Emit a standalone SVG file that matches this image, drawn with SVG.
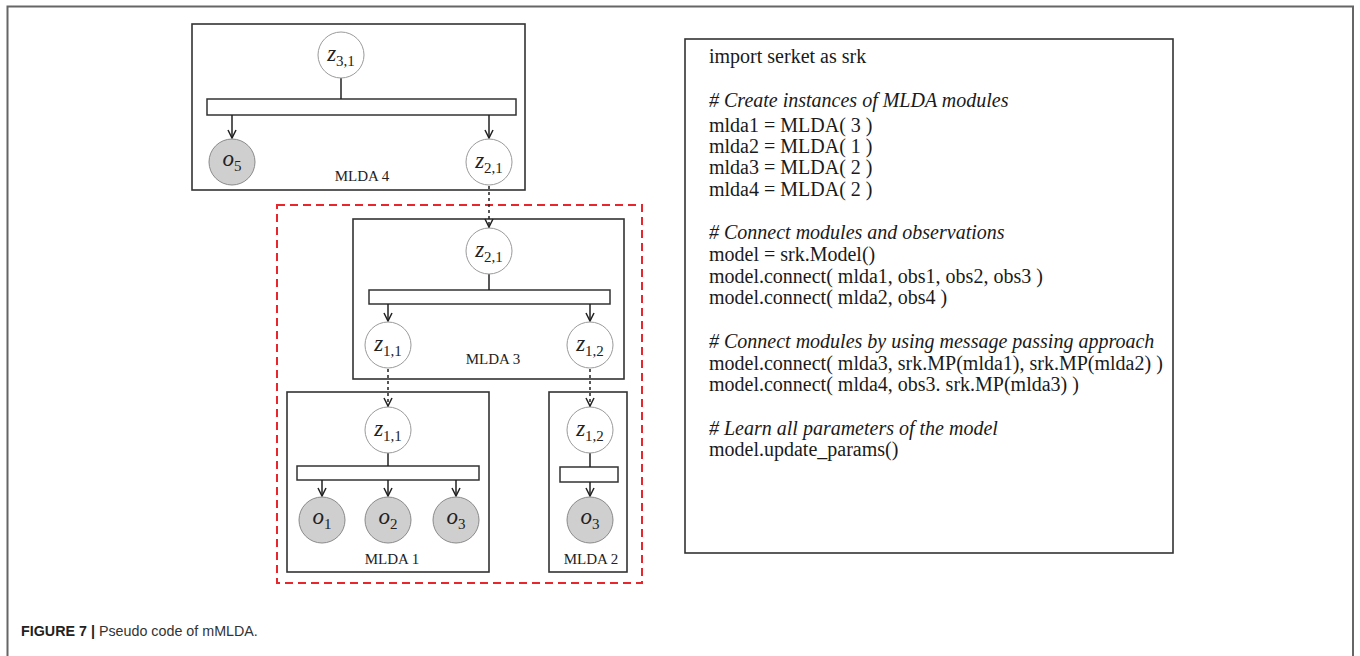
<svg xmlns="http://www.w3.org/2000/svg" width="1360" height="656" viewBox="0 0 1360 656">
  <style>
    .frame { fill: none; stroke: #666; stroke-width: 2; }
    .module { fill: #fff; stroke: #333; stroke-width: 1.6; }
    .bar { fill: #fff; stroke: #333; stroke-width: 1.5; }
    .latent { fill: #fff; stroke: #9a9a9a; stroke-width: 1; }
    .observed { fill: #cfcfcf; stroke: #8a8a8a; stroke-width: 1; }
    .edge { fill: none; stroke: #222; stroke-width: 1.5; }
    .edge-arrow { fill: none; stroke: #222; stroke-width: 1.5; marker-end: url(#vee); }
    .msg { fill: none; stroke: #222; stroke-width: 1.5; stroke-dasharray: 3 3; marker-end: url(#vee); }
    .group { fill: none; stroke: #e8262b; stroke-width: 2; stroke-dasharray: 8 5; }
    .var { font-family: "Liberation Serif", serif; font-style: italic; font-size: 23px; fill: #222; text-anchor: middle; }
    .sub { font-style: normal; font-size: 15px; }
    .mod-label { font-family: "Liberation Serif", serif; font-size: 15px; fill: #222; text-anchor: middle; }
    .code { font-family: "Liberation Serif", serif; font-size: 20px; fill: #1a1a1a; }
    .comment { font-style: italic; }
    .caption { font-family: "Liberation Sans", Arial, sans-serif; font-size: 14.3px; fill: #333; }
  </style>
  <defs>
    <marker id="vee" viewBox="0 0 10 10" refX="9" refY="5" markerWidth="10" markerHeight="10" markerUnits="userSpaceOnUse" orient="auto">
      <path d="M1,1 L9,5 L1,9" fill="none" stroke="#222" stroke-width="1.5"/>
    </marker>
  </defs>

  <!-- page frame -->
  <path class="frame" d="M7.5,656 V6.5 H1353 V656"/>

  <!-- message-passing group outline -->
  <rect id="mp-group" class="group" x="277" y="205" width="365" height="378"/>

  <!-- MLDA 4 -->
  <g id="mlda4">
    <rect class="module" x="192" y="24" width="333" height="166"/>
    <rect class="bar" x="207" y="99" width="309" height="16"/>
    <line class="edge" x1="341" y1="78" x2="341" y2="99"/>
    <line class="edge-arrow" x1="232" y1="115" x2="232" y2="138"/>
    <line class="edge-arrow" x1="489" y1="115" x2="489" y2="138"/>
    <circle class="latent" cx="341" cy="55" r="23"/>
    <text class="var" x="341" y="61">z<tspan class="sub" dy="5">3,1</tspan></text>
    <circle class="observed" cx="232" cy="162" r="23"/>
    <text class="var" x="232" y="166">o<tspan class="sub" dy="5">5</tspan></text>
    <circle class="latent" cx="489" cy="162" r="23"/>
    <text class="var" x="489" y="168">z<tspan class="sub" dy="5">2,1</tspan></text>
    <text class="mod-label" x="362" y="181">MLDA 4</text>
  </g>

  <!-- MLDA 3 -->
  <g id="mlda3">
    <rect class="module" x="353" y="219" width="271" height="160"/>
    <rect class="bar" x="369" y="290" width="241" height="14"/>
    <line class="edge" x1="489" y1="274" x2="489" y2="290"/>
    <line class="edge-arrow" x1="388" y1="304" x2="388" y2="321"/>
    <line class="edge-arrow" x1="590" y1="304" x2="590" y2="321"/>
    <circle class="latent" cx="489" cy="251" r="23"/>
    <text class="var" x="489" y="257">z<tspan class="sub" dy="5">2,1</tspan></text>
    <circle class="latent" cx="388" cy="345" r="23"/>
    <text class="var" x="388" y="351">z<tspan class="sub" dy="5">1,1</tspan></text>
    <circle class="latent" cx="590" cy="345" r="23"/>
    <text class="var" x="590" y="351">z<tspan class="sub" dy="5">1,2</tspan></text>
    <text class="mod-label" x="493" y="364">MLDA 3</text>
  </g>

  <!-- MLDA 1 -->
  <g id="mlda1">
    <rect class="module" x="287" y="392" width="202" height="180"/>
    <rect class="bar" x="297" y="466" width="182" height="14"/>
    <line class="edge" x1="388" y1="453" x2="388" y2="466"/>
    <line class="edge-arrow" x1="322" y1="480" x2="322" y2="496"/>
    <line class="edge-arrow" x1="388" y1="480" x2="388" y2="496"/>
    <line class="edge-arrow" x1="456" y1="480" x2="456" y2="496"/>
    <circle class="latent" cx="388" cy="430" r="23"/>
    <text class="var" x="388" y="436">z<tspan class="sub" dy="5">1,1</tspan></text>
    <circle class="observed" cx="322" cy="520" r="23"/>
    <text class="var" x="322" y="524">o<tspan class="sub" dy="5">1</tspan></text>
    <circle class="observed" cx="388" cy="520" r="23"/>
    <text class="var" x="388" y="524">o<tspan class="sub" dy="5">2</tspan></text>
    <circle class="observed" cx="456" cy="520" r="23"/>
    <text class="var" x="456" y="524">o<tspan class="sub" dy="5">3</tspan></text>
    <text class="mod-label" x="392" y="564">MLDA 1</text>
  </g>

  <!-- MLDA 2 -->
  <g id="mlda2">
    <rect class="module" x="549" y="392" width="78" height="180"/>
    <rect class="bar" x="560" y="467" width="58" height="15"/>
    <line class="edge" x1="590" y1="453" x2="590" y2="467"/>
    <line class="edge-arrow" x1="590" y1="482" x2="590" y2="496"/>
    <circle class="latent" cx="590" cy="430" r="23"/>
    <text class="var" x="590" y="436">z<tspan class="sub" dy="5">1,2</tspan></text>
    <circle class="observed" cx="590" cy="520" r="23"/>
    <text class="var" x="590" y="524">o<tspan class="sub" dy="5">3</tspan></text>
    <text class="mod-label" x="591" y="564">MLDA 2</text>
  </g>

  <!-- message-passing links between modules -->
  <g id="connectors">
    <line class="msg" x1="489" y1="186" x2="489" y2="227"/>
    <line class="msg" x1="388" y1="369" x2="388" y2="406"/>
    <line class="msg" x1="590" y1="369" x2="590" y2="406"/>
  </g>

  <!-- pseudo code listing -->
  <g id="code">
    <rect class="module" x="685" y="39" width="488" height="514"/>
    <text class="code" x="709" y="63">import serket as srk</text>
    <text class="code comment" x="709" y="107"># Create instances of MLDA modules</text>
    <text class="code" x="709" y="132">mlda1 = MLDA( 3 )</text>
    <text class="code" x="709" y="153">mlda2 = MLDA( 1 )</text>
    <text class="code" x="709" y="174">mlda3 = MLDA( 2 )</text>
    <text class="code" x="709" y="196">mlda4 = MLDA( 2 )</text>
    <text class="code comment" x="709" y="239"># Connect modules and observations</text>
    <text class="code" x="709" y="261">model = srk.Model()</text>
    <text class="code" x="709" y="283">model.connect( mlda1, obs1, obs2, obs3 )</text>
    <text class="code" x="709" y="304">model.connect( mlda2, obs4 )</text>
    <text class="code comment" x="709" y="348"># Connect modules by using message passing approach</text>
    <text class="code" x="709" y="370">model.connect( mlda3, srk.MP(mlda1), srk.MP(mlda2) )</text>
    <text class="code" x="709" y="391">model.connect( mlda4, obs3. srk.MP(mlda3) )</text>
    <text class="code comment" x="709" y="435"># Learn all parameters of the model</text>
    <text class="code" x="709" y="456">model.update_params()</text>
  </g>

  <!-- caption -->
  <text class="caption" x="21" y="636"><tspan font-weight="bold" fill="#222">FIGURE 7 |</tspan> Pseudo code of mMLDA.</text>
</svg>
